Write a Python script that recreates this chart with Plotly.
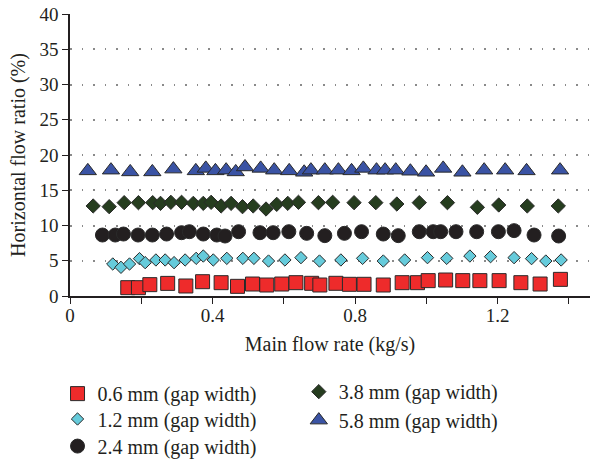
import plotly.graph_objects as go

# ---- data ----
x_06 = [0.162, 0.192, 0.224, 0.274, 0.325, 0.372, 0.424, 0.470, 0.512, 0.552, 0.594, 0.634, 0.678, 0.701,
        0.746, 0.784, 0.825, 0.879, 0.932, 0.975, 1.005, 1.054, 1.102, 1.150, 1.204, 1.265, 1.319, 1.376]
y_06 = [1.18, 1.18, 1.61, 1.79, 1.42, 2.03, 1.89, 1.37, 1.70, 1.56, 1.70, 1.89, 1.80, 1.56,
        1.80, 1.66, 1.66, 1.56, 1.89, 1.89, 2.18, 2.27, 2.18, 2.18, 2.18, 1.89, 1.70, 2.36]

x_12 = [0.120, 0.143, 0.167, 0.195, 0.211, 0.241, 0.267, 0.292, 0.323, 0.354, 0.374, 0.402, 0.440, 0.485,
        0.516, 0.557, 0.603, 0.648, 0.700, 0.760, 0.821, 0.879, 0.939, 1.003, 1.057, 1.122, 1.180, 1.246,
        1.295, 1.335, 1.378]
y_12 = [4.54, 4.07, 4.54, 5.30, 4.73, 5.11, 5.11, 4.73, 5.11, 5.34, 5.67, 5.11, 5.34, 5.34,
        5.34, 4.96, 5.11, 5.44, 4.96, 5.11, 5.34, 4.96, 5.11, 5.44, 5.34, 5.67, 5.58, 5.44,
        5.30, 4.96, 5.11]

x_24 = [0.091, 0.127, 0.150, 0.191, 0.231, 0.271, 0.313, 0.335, 0.374, 0.412, 0.435, 0.473, 0.533, 0.570,
        0.614, 0.664, 0.715, 0.770, 0.818, 0.879, 0.921, 0.980, 1.019, 1.040, 1.083, 1.141, 1.202, 1.246,
        1.302, 1.371]
y_24 = [8.65, 8.65, 8.79, 8.65, 8.65, 8.79, 8.98, 9.12, 8.79, 8.65, 8.51, 9.12, 8.98, 8.98,
        9.12, 8.89, 8.56, 8.89, 9.12, 8.79, 8.56, 9.12, 9.12, 9.12, 9.12, 9.12, 9.12, 9.27,
        8.65, 8.51]

x_38 = [0.065, 0.110, 0.152, 0.192, 0.232, 0.254, 0.283, 0.313, 0.346, 0.374, 0.396, 0.424, 0.452, 0.484,
        0.514, 0.550, 0.580, 0.611, 0.641, 0.697, 0.737, 0.797, 0.858, 0.917, 0.980, 1.059, 1.143, 1.203,
        1.283, 1.370]
y_38 = [12.77, 12.67, 13.24, 13.24, 13.24, 13.14, 13.29, 13.29, 13.14, 13.14, 13.29, 12.77, 13.14, 12.67,
        12.77, 12.34, 13.00, 13.14, 13.29, 13.24, 13.29, 13.24, 13.24, 13.05, 13.24, 13.24, 12.58, 12.91,
        12.77, 12.77]

x_58 = [0.050, 0.115, 0.169, 0.231, 0.290, 0.353, 0.381, 0.408, 0.438, 0.465, 0.491, 0.535, 0.573, 0.615,
        0.657, 0.676, 0.715, 0.753, 0.790, 0.823, 0.860, 0.884, 0.914, 0.955, 0.999, 1.047, 1.101, 1.162,
        1.221, 1.281, 1.375]
y_58 = [17.75, 17.85, 17.6, 17.6, 18.0, 17.75, 18.1, 17.75, 17.85, 17.6, 18.3, 18.1, 17.85, 17.75,
        17.55, 17.85, 17.85, 17.85, 17.75, 18.1, 17.85, 17.85, 17.85, 17.7, 17.55, 18.1, 17.55, 17.85,
        17.85, 17.75, 17.85]

names = ["0.6 mm (gap width)", "1.2 mm (gap width)", "2.4 mm (gap width)",
         "3.8 mm (gap width)", "5.8 mm (gap width)"]

x_tickvals = [0, 0.2, 0.4, 0.6, 0.8, 1.0, 1.2, 1.4]
x_ticktext = ["0", "", "0.4", "", "0.8", "", "1.2", ""]
y_tickvals = [0, 5, 10, 15, 20, 25, 30, 35, 40]

FONT = "Liberation Serif"
TXT = "#231f20"
OUT = "#2a2a2a"

fig = go.Figure()
specs = [
    (x_06, y_06, names[0], "square", 14, "#ee2b2b", "legend"),
    (x_12, y_12, names[1], "diamond", 9.5, "#66cbdb", "legend2"),
    (x_24, y_24, names[2], "circle", 14, "#231f20", "legend3"),
    (x_38, y_38, names[3], "diamond", 11, "#263d1f", "legend4"),
    (x_58, y_58, names[4], "triangle-up", 15, "#3a53a4", "legend5"),
]
for xs, ys, nm, sym, sz, col, lg in specs:
    fig.add_trace(go.Scatter(
        x=xs, y=ys, name=nm, mode="markers", legend=lg,
        marker=dict(symbol=sym, size=sz, color=col, line=dict(color=OUT, width=1)),
    ))

def leg(x, y):
    return dict(
        x=x, y=y,
        font=dict(family=FONT, size=20, color=TXT),
        bgcolor="rgba(0,0,0,0)", borderwidth=0,
        orientation="v", xanchor="left", yanchor="top",
    )

c1, c2 = -0.024, 0.44
fig.update_layout(
    width=592, height=462,
    margin=dict(l=70, r=2, t=14, b=166, autoexpand=False),
    paper_bgcolor="white", plot_bgcolor="white",
    font=dict(family=FONT, size=19, color=TXT),
    showlegend=True,
    legend=leg(c1, -0.277),
    legend2=leg(c1, -0.367),
    legend3=leg(c1, -0.463),
    legend4=leg(c2, -0.270),
    legend5=leg(c2, -0.371),
    xaxis=dict(
        range=[0, 1.459], tickvals=x_tickvals, ticktext=x_ticktext,
        ticks="outside", ticklen=6, tickwidth=1.3, tickcolor=TXT,
        showline=True, linecolor=TXT, linewidth=1.5,
        showgrid=False, zeroline=False, automargin=False,
        ticklabelstandoff=-5,
        tickfont=dict(family=FONT, size=19, color=TXT),
        title=dict(text="Main flow rate (kg/s)", font=dict(family=FONT, size=20, color=TXT), standoff=12),
    ),
    yaxis=dict(
        range=[0, 40], tickvals=y_tickvals,
        ticks="outside", ticklen=6, tickwidth=1.3, tickcolor=TXT,
        showline=True, linecolor=TXT, linewidth=1.5,
        showgrid=True, gridcolor="#8a8a8a", gridwidth=1.5, griddash="1.5px,10px",
        zeroline=False, automargin=False,
        tickfont=dict(family=FONT, size=19, color=TXT),
        title=dict(text="Horizontal flow ratio (%)", font=dict(family=FONT, size=20, color=TXT), standoff=8),
    ),
)

fig.write_html("out.html", config={"displayModeBar": False},
               post_script="document.body.style.margin='0px';document.body.style.overflow='hidden';")
